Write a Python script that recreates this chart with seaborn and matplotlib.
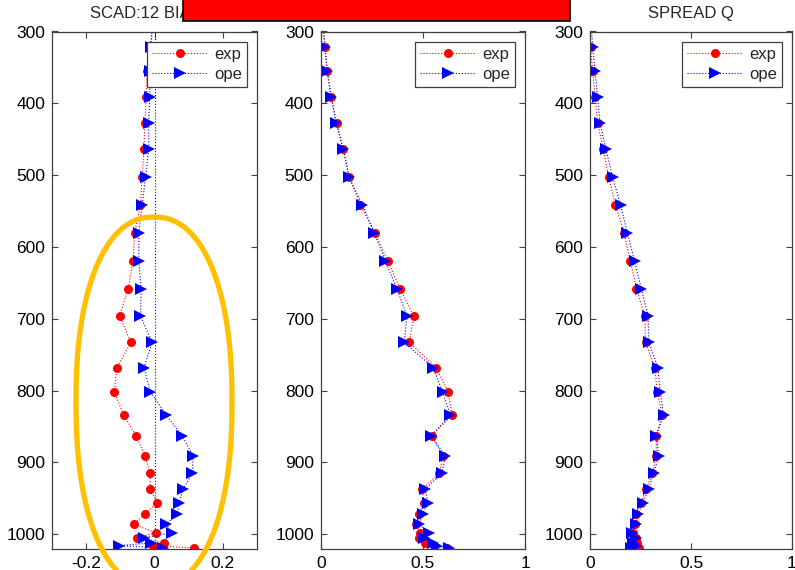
import numpy as np
import matplotlib
matplotlib.use("Agg")
import matplotlib.pyplot as plt
from matplotlib.patches import Rectangle, PathPatch
from matplotlib.path import Path
import seaborn as sns

# Pressure levels (hPa)
levels = [285, 321, 355, 391, 427, 464, 503, 541, 581, 620, 658, 696, 733,
          768, 802, 834, 863, 891, 915, 937, 956, 972, 986, 998, 1005, 1012,
          1016, 1019]

# Bias of specific humidity
bias_exp = [-0.005, -0.012, -0.022, -0.024, -0.028, -0.031, -0.036, -0.041,
            -0.058, -0.063, -0.077, -0.102, -0.069, -0.110, -0.118, -0.090,
            -0.054, -0.027, -0.013, -0.013, 0.008, -0.029, -0.061, 0.003,
            -0.051, 0.027, -0.004, 0.116]
bias_ope = [-0.005, -0.010, -0.012, -0.014, -0.017, -0.017, -0.026, -0.036,
            -0.046, -0.046, -0.039, -0.041, -0.007, -0.031, -0.012, 0.034,
            0.081, 0.113, 0.111, 0.084, 0.072, 0.067, 0.034, 0.050, -0.031,
            -0.010, -0.105, 0.024]

# RMS of specific humidity
rms_exp = [0.010, 0.020, 0.030, 0.050, 0.078, 0.110, 0.140, 0.193, 0.267,
           0.329, 0.389, 0.455, 0.434, 0.565, 0.624, 0.643, 0.545, 0.597,
           0.581, 0.496, 0.507, 0.483, 0.468, 0.484, 0.481, 0.511, 0.555,
           0.619]
rms_ope = [0.010, 0.021, 0.033, 0.052, 0.075, 0.111, 0.139, 0.204, 0.263,
           0.317, 0.373, 0.422, 0.409, 0.550, 0.597, 0.635, 0.540, 0.610,
           0.594, 0.512, 0.525, 0.499, 0.481, 0.528, 0.507, 0.550, 0.570,
           0.630]

# Ensemble spread of specific humidity
spread_exp = [0.000, 0.003, 0.013, 0.025, 0.038, 0.066, 0.093, 0.126, 0.169,
              0.200, 0.230, 0.271, 0.275, 0.320, 0.333, 0.357, 0.328, 0.328,
              0.308, 0.279, 0.251, 0.226, 0.221, 0.213, 0.226, 0.233, 0.226,
              0.243]
spread_ope = [0.005, 0.013, 0.025, 0.038, 0.049, 0.079, 0.112, 0.151, 0.185,
              0.221, 0.254, 0.287, 0.292, 0.336, 0.348, 0.364, 0.328, 0.341,
              0.315, 0.290, 0.262, 0.238, 0.226, 0.208, 0.230, 0.213, 0.226,
              0.205]

titles = ["SCAD:12 BIAS Q", "SCAD:12 RMS Q", "SPREAD Q"]
xlims = [(-0.3, 0.3), (0, 1), (0, 1)]
xticks = [[-0.2, 0, 0.2], [0, 0.5, 1], [0, 0.5, 1]]
xticklabels = [["-0.2", "0", "0.2"], ["0", "0.5", "1"], ["0", "0.5", "1"]]
yticks = [300, 400, 500, 600, 700, 800, 900, 1000]

sns.set_style("ticks")
plt.rcParams["font.family"] = ["Liberation Sans", "DejaVu Sans"]

W, H = 795, 570
fig = plt.figure(figsize=(W / 100, H / 100), dpi=100)
fig.patch.set_facecolor("white")

spans = [(52, 257), (320.7, 525), (590, 792)]
top_px, bot_px = 31.5, 549.3
series = [(bias_exp, bias_ope), (rms_exp, rms_ope), (spread_exp, spread_ope)]
edge = "#404040"

for i, ((x0, x1), (e_vals, o_vals)) in enumerate(zip(spans, series)):
    ax = fig.add_axes([x0 / W, 1 - bot_px / H, (x1 - x0) / W, (bot_px - top_px) / H])
    if i == 0:
        ax.axvline(0, color="blue", linestyle=":", linewidth=0.8, zorder=1)
    sns.lineplot(x=e_vals, y=levels, sort=False, estimator=None, ax=ax,
                 color="red", linestyle=":", linewidth=0.8, marker="o",
                 markersize=6.5, markeredgecolor="red", markeredgewidth=0,
                 label="exp")
    sns.lineplot(x=o_vals, y=levels, sort=False, estimator=None, ax=ax,
                 color="blue", linestyle=":", linewidth=0.8, marker=">",
                 markersize=8, markeredgecolor="blue", markeredgewidth=0,
                 label="ope")
    ax.set_xlim(*xlims[i])
    ax.set_ylim(1021, 300)
    ax.set_xticks(xticks[i])
    ax.set_xticklabels(xticklabels[i])
    ax.set_yticks(yticks)
    ax.set_xlabel("")
    ax.set_ylabel("")
    ax.tick_params(direction="in", top=True, right=True, length=4.5,
                   width=0.8, color=edge, labelcolor="black", labelsize=12.5,
                   pad=5)
    for sp in ax.spines.values():
        sp.set_visible(True)
        sp.set_color(edge)
        sp.set_linewidth(0.9)
    ax.set_title(titles[i], fontsize=12, pad=9.5)
    leg = ax.legend(loc="upper right", frameon=True, fancybox=False,
                    edgecolor=edge, framealpha=1, fontsize=12,
                    handlelength=3.3, handletextpad=0.4, borderaxespad=0.6,
                    borderpad=0.3, labelspacing=0.3)
    leg.get_frame().set_linewidth(0.9)

# Highlight ring over the lower part of the bias profile
cx, cy, a, b, n = 154, 402, 78, 185, 2.25
t = np.linspace(0, 2 * np.pi, 400)
px = cx + a * np.sign(np.cos(t)) * np.abs(np.cos(t)) ** (2 / n)
py = cy + b * np.sign(np.sin(t)) * np.abs(np.sin(t)) ** (2 / n)
verts = np.column_stack([px / W, 1 - py / H])
ring = PathPatch(Path(verts, closed=True), fill=False, edgecolor="#FFC000",
                 linewidth=3.8, transform=fig.transFigure, zorder=5)
fig.add_artist(ring)

# Red banner across the top
banner = Rectangle((183 / W, 1 - 21 / H), 387 / W, 26 / H, facecolor="#FF0000",
                   edgecolor="black", linewidth=1.2, transform=fig.transFigure,
                   zorder=6)
fig.add_artist(banner)

fig.savefig("out.png", dpi=100, facecolor="white")
